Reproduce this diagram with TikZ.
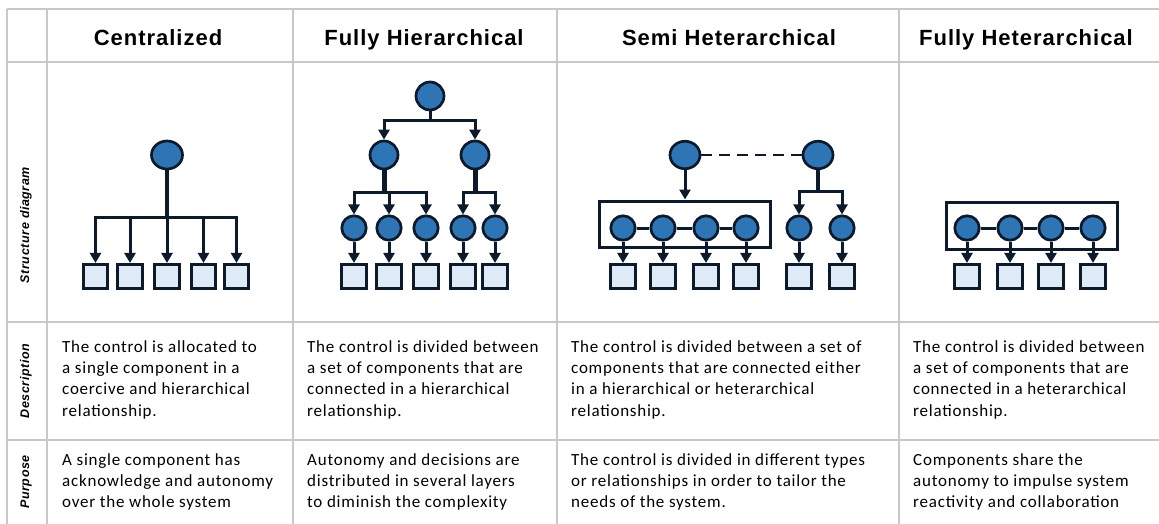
\documentclass[tikz,border=0pt]{standalone}
\usepackage{fontspec}
\usetikzlibrary{arrows.meta,shapes.geometric}
\newfontfamily\hdfont[LetterSpace=4.5]{Liberation Sans}
\newfontfamily\bodyfont[LetterSpace=4.5]{Carlito}
\definecolor{gridc}{HTML}{C8C8C8}
\definecolor{navy}{HTML}{0D1A2C}
\definecolor{cblue}{HTML}{2E75B6}
\definecolor{sqfill}{HTML}{DEEAF6}
\tikzset{
  gridline/.style={draw=gridc, line width=2pt},
  bigc/.style={ellipse, draw=navy, fill=cblue, line width=2.7pt, minimum width=30pt, minimum height=28pt, inner sep=0pt},
  smc/.style={circle, draw=navy, fill=cblue, line width=2.7pt, minimum size=24.4pt, inner sep=0pt},
  unit/.style={rectangle, draw=navy, fill=sqfill, line width=2.7pt, minimum size=24.4pt, inner sep=0pt},
  grp/.style={rectangle, draw=navy, line width=3pt, inner sep=0pt},
  link/.style={draw=navy, line width=3pt},
  arr/.style={draw=navy, line width=3pt, -{Triangle[width=11pt,length=10pt]}},
  trunk/.style={draw=navy, line width=5pt},
  hdr/.style={anchor=base, inner sep=0pt, font=\hdfont\bfseries\fontsize{22}{26}\selectfont},
  side/.style={rotate=90, inner sep=0pt, font=\hdfont\bfseries\itshape\fontsize{12.5}{15}\selectfont},
  body/.style={anchor=base west, inner sep=0pt, font=\bodyfont\fontsize{17}{21.4}\selectfont},
}
\begin{document}
\begin{tikzpicture}[x=1pt,y=-1pt]
\useasboundingbox (0,0) rectangle (1159,524);
% grid
\foreach \yy in {9.5,62,322,440} \draw[gridline] (7,\yy) -- (1159,\yy);
\foreach \xx in {7,47,293,557,899} \draw[gridline] (\xx,9.5) -- (\xx,524);
% headers
\node[hdr] (h-cen) at (158,46) {Centralized};
\node[hdr] (h-fh) at (424,46) {Fully Hierarchical};
\node[hdr] (h-sh) at (729,46) {Semi Heterarchical};
\node[hdr] (h-fhe) at (1026,46) {Fully Heterarchical};
% side labels
\node[side] (l-str) at (26,225) {Structure diagram};
\node[side] (l-des) at (26,381) {Description};
\node[side] (l-pur) at (26,482) {Purpose};
% ---------- Centralized
\node[bigc, minimum width=31pt] (c0) at (167,155) {};
\foreach \i/\xx in {1/95.5,2/130,3/167,4/203.5,5/236.5}
  \node[unit] (ca\i) at (\xx,276.5) {};
\coordinate (cb) at (167,217);
\draw[trunk, line width=3.6pt] (c0.south) -- (cb);
\foreach \i in {1,...,5} \draw[arr] (c0.south) -- (cb) -| (ca\i.north);
% ---------- Fully hierarchical
\node[bigc, minimum width=28pt] (h0) at (430,96) {};
\node[bigc, minimum width=28pt] (h1) at (384,155) {};
\node[bigc, minimum width=28pt] (h2) at (475,155) {};
\foreach \i/\xx in {1/354,2/389,3/426,4/463,5/495}{
  \node[smc] (l\i) at (\xx,228) {};
  \node[unit] (hs\i) at (\xx,276.5) {};
  \draw[arr] (l\i.south) -- (hs\i.north);
}
\coordinate (hb0) at (430,121);
\draw[arr] (h0.south) -- (hb0) -| (h1.north);
\draw[arr] (h0.south) -- (hb0) -| (h2.north);
\coordinate (hb1) at (384,192);
\coordinate (hb2) at (475,192);
\draw[trunk] (h1.south) -- (hb1);
\draw[trunk] (h2.south) -- (hb2);
\foreach \i in {1,2,3} \draw[arr] (h1.south) -- (hb1) -| (l\i.north);
\foreach \i in {4,5} \draw[arr] (h2.south) -- (hb2) -| (l\i.north);
% ---------- Semi heterarchical
\node[bigc, minimum width=30pt, minimum height=27.5pt] (s0) at (685,155) {};
\node[bigc, minimum width=30pt, minimum height=27.5pt] (s1) at (818,155) {};
\draw[link, line width=2.8pt, dash pattern=on 11pt off 7pt] (s0.east) -- (s1.west);
\node[grp, minimum width=171pt, minimum height=46pt] (g1) at (684.5,224) {};
\draw[arr] (s0.south) -- (s0.south |- g1.north);
\foreach \i/\xx in {1/623,2/663,3/706,4/746,5/799,6/842}{
  \node[smc] (m\i) at (\xx,228) {};
  \node[unit] (ms\i) at (\xx,276.5) {};
  \draw[arr] (m\i.south) -- (ms\i.north);
}
\foreach \a/\b in {1/2,2/3,3/4} \draw[link] (m\a.east) -- (m\b.west);
\coordinate (sb) at (818,191);
\draw[trunk, line width=4.4pt] (s1.south) -- (sb);
\foreach \i in {5,6} \draw[arr] (s1.south) -- (sb) -| (m\i.north);
% ---------- Fully heterarchical
\node[grp, minimum width=171pt, minimum height=47pt] (g2) at (1031.5,225.5) {};
\foreach \i/\xx in {1/967,2/1010,3/1051,4/1093}{
  \node[smc] (f\i) at (\xx,228) {};
  \node[unit] (fs\i) at (\xx,276.5) {};
  \draw[arr] (f\i.south) -- (fs\i.north);
}
\foreach \a/\b in {1/2,2/3,3/4} \draw[link] (f\a.east) -- (f\b.west);
% ---------- Description texts
\node[body] (d1) at (62,352) {\parbox[t]{230pt}{\raggedright The control is allocated to\\a single component in a\\coercive and hierarchical\\relationship.}};
\node[body] (d2) at (307,352) {\parbox[t]{250pt}{\raggedright The control is divided between\\a set of components that are\\connected in a hierarchical\\relationship.}};
\node[body] (d3) at (571,352) {\parbox[t]{330pt}{\raggedright The control is divided between a set of\\components that are connected either\\in a hierarchical or heterarchical\\relationship.}};
\node[body] (d4) at (913,352) {\parbox[t]{250pt}{\raggedright The control is divided between\\a set of components that are\\connected in a heterarchical\\relationship.}};
% ---------- Purpose texts
\node[body] (p1) at (62,465) {\parbox[t]{250pt}{\raggedright A single component has\\acknowledge and autonomy\\over the whole system}};
\node[body] (p2) at (307,465) {\parbox[t]{250pt}{\raggedright Autonomy and decisions are\\distributed in several layers\\to diminish the complexity}};
\node[body] (p3) at (571,465) {\parbox[t]{330pt}{\raggedright The control is divided in different types\\or relationships in order to tailor the\\needs of the system.}};
\node[body] (p4) at (913,465) {\parbox[t]{250pt}{\raggedright Components share the\\autonomy to impulse system\\reactivity and collaboration}};
\end{tikzpicture}
\end{document}
